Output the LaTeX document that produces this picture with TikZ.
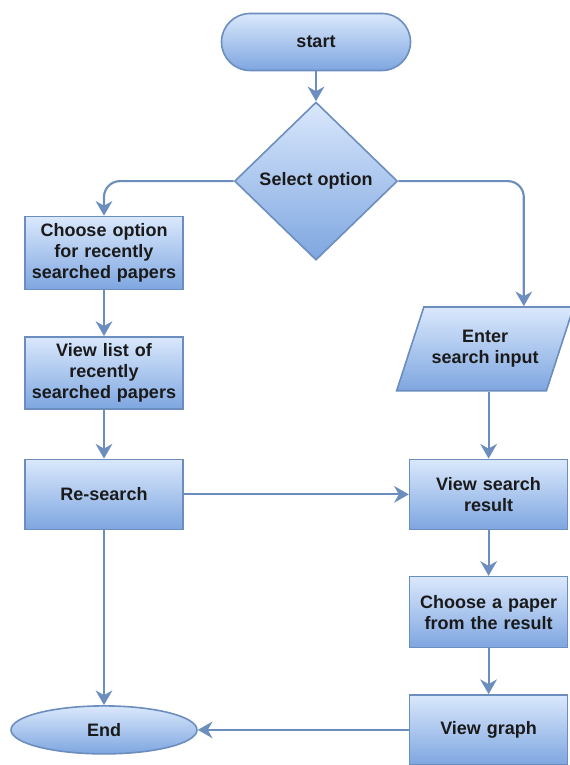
\documentclass[tikz,border=0pt]{standalone}
\usepackage{fontspec}
\setmainfont{Liberation Sans}
\usepackage{xcolor}
\usepackage{tikz}
\usetikzlibrary{shapes.geometric,arrows.meta,positioning,calc}

\definecolor{edgeblue}{HTML}{6C8EBF}
\definecolor{fillhi}{HTML}{DAE8FC}
\definecolor{filllo}{HTML}{7EA6E0}
\definecolor{textdark}{HTML}{1A1A1A}

\begin{document}
\begin{tikzpicture}[
        node distance=34.25pt,
        box/.style={rectangle, draw=edgeblue, line width=1.2pt, top color=fillhi, bottom color=filllo, text width=114pt, text centered, minimum width=118.5pt, minimum height=52.5pt, inner sep=2pt, text=textdark, font=\bfseries\fontsize{13.5}{15.75}\selectfont},
        terminal/.style={box, text width=, minimum height=42.75pt},
        decision/.style={diamond, draw=edgeblue, line width=1.2pt, top color=fillhi, bottom color=filllo, aspect=1, inner sep=0pt, minimum width=122.25pt, minimum height=118.5pt, text=textdark, font=\bfseries\fontsize{13.5}{15.75}\selectfont},
        io/.style={trapezium, trapezium left angle=72, trapezium right angle=108, trapezium stretches body=true, draw=edgeblue, line width=1.2pt, top color=fillhi, bottom color=filllo, inner xsep=2pt, inner ysep=17.5pt, minimum width=132.75pt, align=center, text=textdark, font=\bfseries\fontsize{13.5}{15.75}\selectfont},
        arrow/.style={-{Stealth[length=11pt,width=12.5pt,inset=3.5pt]}, line width=1.6pt, draw=edgeblue}
    ]
    \useasboundingbox (0,0) rectangle (427.5pt,-573.75pt);

    % Start
    \node[terminal, rounded corners=21.375pt, minimum width=141.75pt] (start) at (237pt,-31.5pt) {start};

    % Choice of option
    \node[decision, below=22.5pt of start] (select) {Select option};

    % Left branch
    \node[box, minimum height=54.75pt] (recent) at (78pt,-189.75pt) {Choose option\\for recently\\searched papers};
    \node[box, minimum height=54pt, below=of recent] (viewlist) {View list of\\recently\\searched papers};
    \node[box, below=36.75pt of viewlist] (research) {Re-search};

    % Right branch
    \node[box, right=168.75pt of research] (viewres) {View search\\result};
    \node[io, above=50.25pt of viewres, xshift=-2.6pt] (input) {Enter\\search input};
    \node[box, minimum height=53.25pt, below=of viewres] (paper) {Choose a paper\\from the result};
    \node[box, below=of paper] (graph) {View graph};

    % End
    \node[ellipse, draw=edgeblue, line width=1.2pt, top color=fillhi, bottom color=filllo, minimum width=139.5pt, minimum height=36pt, inner sep=0pt, text=textdark, font=\bfseries\fontsize{13.5}{15.75}\selectfont] (end) at (research |- graph) {End};

    \draw[arrow] (start) -- (select);
    \draw[arrow, rounded corners=12pt] (select.west) -| (recent.north);
    \draw[arrow, rounded corners=12pt] (select.east) -| ([xshift=29pt]input.north);
    \draw[arrow] (recent) -- (viewlist);
    \draw[arrow] (viewlist) -- (research);
    \draw[arrow] (research) -- (viewres);
    \draw[arrow] (research) -- (end);
    \draw[arrow] (input.south -| viewres.north) -- (viewres.north);
    \draw[arrow] (viewres) -- (paper);
    \draw[arrow] (paper) -- (graph);
    \draw[arrow] (graph) -- (end);

\end{tikzpicture}
\end{document}
